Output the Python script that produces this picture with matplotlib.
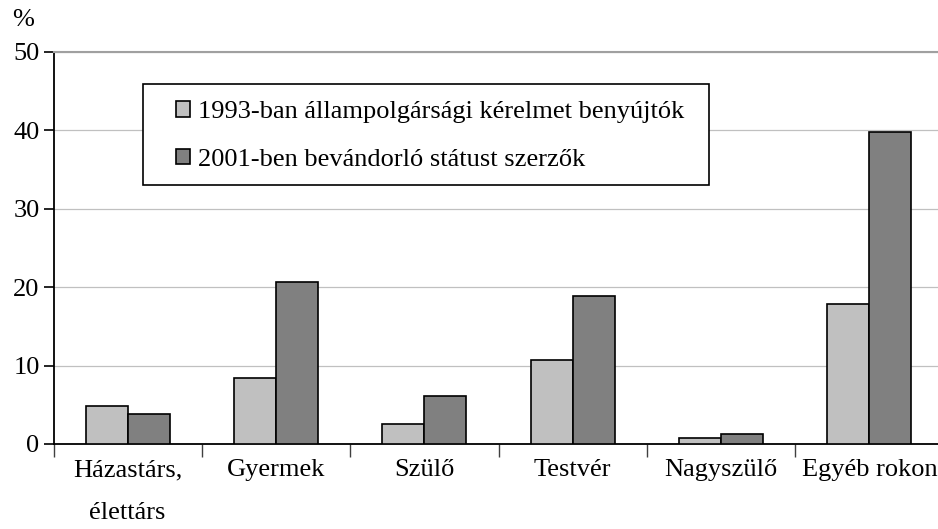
import numpy as np
import matplotlib
matplotlib.use("Agg")
import matplotlib.pyplot as plt
from matplotlib.patches import Patch, Rectangle

categories = ["Házastárs,\nélettárs", "Gyermek", "Szülő", "Testvér", "Nagyszülő", "Egyéb rokon"]
values_1993 = [4.8, 8.4, 2.5, 10.7, 0.8, 17.9]
values_2001 = [3.8, 20.7, 6.1, 18.9, 1.3, 39.8]
series_names = ["1993-ban állampolgársági kérelmet benyújtók",
                "2001-ben bevándorló státust szerzők"]
yticks = [0, 10, 20, 30, 40, 50]

plt.rcParams['font.family'] = ['Liberation Serif', 'DejaVu Serif']
plt.rcParams['font.size'] = 19

W, H = 938, 529
fig = plt.figure(figsize=(W / 100, H / 100), dpi=100)
ax = fig.add_axes([53.5 / W, 1 - 444 / H, 890 / W, 392 / H])

x = np.arange(len(categories))
w = 0.284
ax.bar(x - w / 2, values_1993, w, color="#c0c0c0", edgecolor="black", linewidth=1.2, zorder=3)
ax.bar(x + w / 2, values_2001, w, color="#808080", edgecolor="black", linewidth=1.2, zorder=3)

ax.set_xlim(-0.5, len(categories) - 0.5)
ax.set_ylim(0, 50)
ax.set_yticks(yticks)
ax.yaxis.grid(True, color="#c0c0c0", linewidth=0.9, zorder=0)

# category boundaries as major ticks, labels on minor ticks
ax.set_xticks(np.arange(len(categories) + 1) - 0.5)
ax.set_xticklabels([])
ax.set_xticks(x, minor=True)
ax.set_xticklabels(categories, minor=True, linespacing=2.2, va="top")
ax.tick_params(axis="x", which="major", length=9, width=1, color="#404040")
ax.tick_params(axis="x", which="minor", length=0, pad=11)
ax.tick_params(axis="y", length=7, width=1.2, pad=3)

ax.spines["right"].set_visible(False)
ax.spines["top"].set_color("#a0a0a0")
ax.spines["top"].set_linewidth(1.5)
ax.spines["left"].set_linewidth(1.3)
ax.spines["bottom"].set_linewidth(1.3)

fig.text(12 / W, 1 - 20 / H, "%", ha="left", va="center")

# legend frame drawn separately so the padding can differ per side
fig.patches.append(Rectangle((143 / W, 1 - 185 / H), 566 / W, 101 / H,
                             transform=fig.transFigure, facecolor="white",
                             edgecolor="black", linewidth=1.2, zorder=4))
handles = [Patch(facecolor="#c0c0c0", edgecolor="black", linewidth=1.2),
           Patch(facecolor="#808080", edgecolor="black", linewidth=1.2)]
leg = fig.legend(handles, series_names, loc="center left",
                 bbox_to_anchor=(176 / W, 1 - 136 / H), borderaxespad=0,
                 frameon=False, borderpad=0,
                 handlelength=0.53, handleheight=0.53, handletextpad=0.3,
                 labelspacing=0.95)
leg.set_zorder(5)

fig.savefig("out.png", dpi=100)
